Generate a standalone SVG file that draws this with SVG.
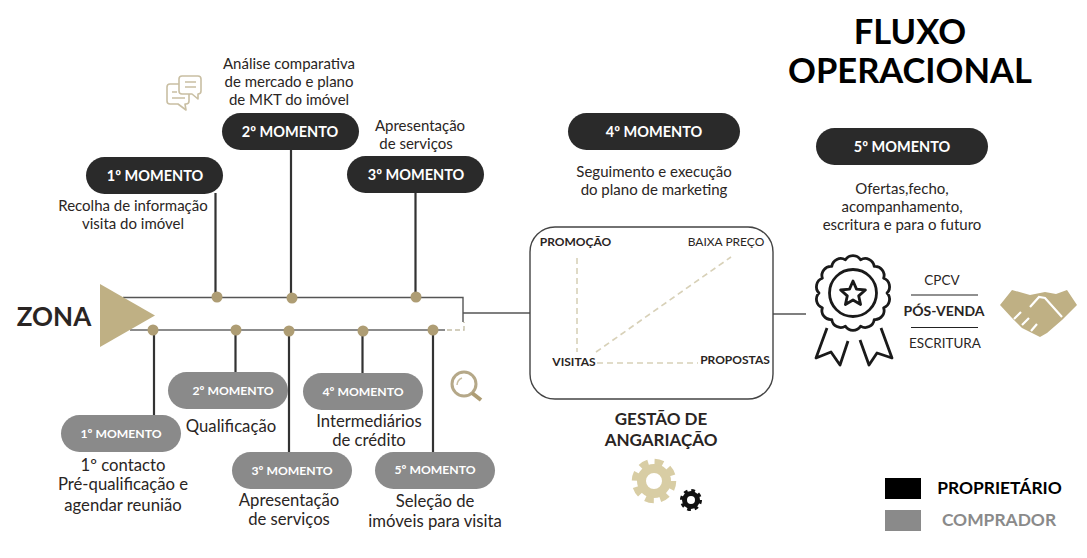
<svg xmlns="http://www.w3.org/2000/svg" width="1087" height="558" viewBox="0 0 1087 558">
<style>
text{font-family:Lato,"Open Sans","Liberation Sans",sans-serif;fill:#2a2523;text-anchor:middle}
.t{font-size:15px}
.u{font-size:16.700px}
.b{font-size:14.500px;font-weight:700;fill:#fff}
.g{font-size:12.200px;font-weight:700;fill:#fff}
.k{fill:#2a2a2a}
.s{fill:#8a8a8a}
.c{stroke:#333;stroke-width:2.2;fill:none}
.l{stroke:#555;stroke-width:1.4;fill:none}
.d{fill:#ae9d74}
.ds{stroke:#d8d1b8;stroke-width:1.6;stroke-dasharray:6 4;fill:none}
.lb{font-size:12px;font-weight:700}
</style>
<rect width="1087" height="558" fill="#fff"/>
<g id="connectors">
<path class="l" d="M123 297.500H463V322M463 313H530M773 314H806"/>
<path d="M130 330H445" stroke="#666" stroke-width="1.600" fill="none"/>
<path d="M447 330H464V322" stroke="#c5bfa8" stroke-width="1.400" stroke-dasharray="5 3" fill="none"/>
<path class="c" d="M215.500 193V297M291 150V297M415.500 192V297M154 330V416M235.500 330V372M289 330V453M362.500 330V373M433 330V453"/>
<circle class="d" cx="217" cy="297" r="5.500"/><circle class="d" cx="292" cy="298" r="5.500"/><circle class="d" cx="416" cy="297" r="5.500"/>
<circle class="d" cx="153" cy="330" r="5.500"/><circle class="d" cx="236" cy="330" r="5.500"/><circle class="d" cx="289" cy="331" r="5.500"/><circle class="d" cx="363" cy="331" r="5.500"/><circle class="d" cx="433" cy="330" r="5.500"/>
</g>
<g id="titulo"><text x="910" y="44" font-size="34.500" font-weight="700" style="fill:#000">FLUXO</text><text x="910" y="83" font-size="34.500" font-weight="700" style="fill:#000">OPERACIONAL</text></g>
<g id="zona"><text x="54" y="326" font-size="26" font-weight="700">ZONA</text><path d="M100 284L155 315.500L100 347Z" fill="#bfb084"/></g>
<g id="p1"><rect class="k" x="86" y="157" width="137" height="37" rx="18.500"/><text class="b" x="155" y="181">1º MOMENTO</text><text class="t" x="133" y="211">Recolha de informação</text><text class="t" x="133" y="229">visita do imóvel</text></g>
<g id="p2"><rect class="k" x="222" y="113" width="137" height="37" rx="18.500"/><text class="b" x="290" y="137">2º MOMENTO</text><text class="t" x="289" y="69">Análise comparativa</text><text class="t" x="289" y="87">de mercado e plano</text><text class="t" x="289" y="105">de MKT do imóvel</text></g>
<g id="p3"><rect class="k" x="347" y="156" width="137" height="37" rx="18.500"/><text class="b" x="416" y="180">3º MOMENTO</text><text class="t" x="420" y="131">Apresentação</text><text class="t" x="416" y="149">de serviços</text></g>
<g id="p4"><rect class="k" x="568" y="113" width="172" height="37" rx="18.500"/><text class="b" x="654" y="137">4º MOMENTO</text><text class="t" x="654" y="177">Seguimento e execução</text><text class="t" x="654" y="195">do plano de marketing</text></g>
<g id="p5"><rect class="k" x="816" y="128" width="172" height="37" rx="18.500"/><text class="b" x="902" y="152">5º MOMENTO</text><text class="t" x="902" y="194">Ofertas,fecho,</text><text class="t" x="902" y="212">acompanhamento,</text><text class="t" x="902" y="230">escritura e para o futuro</text></g>
<g id="c1"><rect class="s" x="61" y="415" width="120" height="37" rx="18.500"/><text class="g" x="121" y="438">1º MOMENTO</text><text class="u" x="123" y="471">1º contacto</text><text class="u" x="123" y="490">Pré-qualificação e</text><text class="u" x="123" y="511">agendar reunião</text></g>
<g id="c2"><rect class="s" x="168" y="372" width="120" height="37" rx="18.500"/><text class="g" x="233" y="395">2º MOMENTO</text><text class="u" x="231" y="432">Qualificação</text></g>
<g id="c3"><rect class="s" x="232" y="452" width="120" height="37" rx="18.500"/><text class="g" x="292" y="475">3º MOMENTO</text><text class="u" x="289" y="506">Apresentação</text><text class="u" x="289" y="525">de serviços</text></g>
<g id="c4"><rect class="s" x="303" y="373" width="120" height="37" rx="18.500"/><text class="g" x="363" y="396">4º MOMENTO</text><text class="u" x="369" y="427">Intermediários</text><text class="u" x="369" y="446">de crédito</text></g>
<g id="c5"><rect class="s" x="375" y="452" width="120" height="37" rx="18.500"/><text class="g" x="435" y="474">5º MOMENTO</text><text class="u" x="435" y="507">Seleção de</text><text class="u" x="435" y="527">imóveis para visita</text></g>
<g id="gestao">
<rect x="530" y="227" width="243" height="172" rx="25" fill="#fff" stroke="#444" stroke-width="1.400"/>
<path class="ds" d="M577 258V352M596 352L731 257M597 363H698"/>
<text class="lb" x="575.500" y="246">PROMOÇÃO</text><text class="lb" x="726" y="246" style="font-weight:400">BAIXA PREÇO</text><text class="lb" x="574" y="366">VISITAS</text><text class="lb" x="735" y="364">PROPOSTAS</text>
<text x="661" y="425" font-size="17" font-weight="700">GESTÃO DE</text><text x="661" y="446" font-size="17" font-weight="700">ANGARIAÇÃO</text>
</g>
<g id="icones">
<g fill="#fff" stroke="#c9bfa3" stroke-width="1.600" stroke-linejoin="round"><path d="M167 87a3 3 0 0 1 3-3h16a3 3 0 0 1 3 3v14a3 3 0 0 1-3 3h-1l1 6-8-6h-8a3 3 0 0 1-3-3Z"/><path d="M179 79a3 3 0 0 1 3-3h16a3 3 0 0 1 3 3v12a3 3 0 0 1-3 3v5l-6-5h-10a3 3 0 0 1-3-3Z"/><path d="M185 82h11M185 87h11M172 92h5M172 98h13" fill="none"/></g>
<g fill="none"><circle cx="464" cy="384" r="12" stroke="#b5a888" stroke-width="3"/><path d="M472 393L481 400" stroke="#ae9d74" stroke-width="4"/><path d="M457 385a8 8 0 0 1 5-7" stroke="#c9bfa3" stroke-width="1.500"/></g>
<g id="engrenagem1" fill="none" stroke="#d8cda4"><circle cx="654" cy="481" r="12.500" stroke-width="9"/><circle cx="654" cy="481" r="19" stroke-width="6.500" stroke-dasharray="8.500 6.420"/></g>
<g id="engrenagem2" fill="none" stroke="#111"><circle cx="691" cy="500" r="6.500" stroke-width="5"/><circle cx="691" cy="500" r="9.500" stroke-width="3" stroke-dasharray="3.700 3.760"/></g>
</g>
<g id="selo" fill="none" stroke="#1a1a1a" stroke-width="2.800" stroke-linejoin="round">
<path d="M887 293A9 9 0 0 1 883.630 307.750A9 9 0 0 1 874.200 319.580A9 9 0 0 1 860.570 326.150A9 9 0 0 1 845.430 326.150A9 9 0 0 1 831.800 319.580A9 9 0 0 1 822.370 307.750A9 9 0 0 1 819 293A9 9 0 0 1 822.370 278.250A9 9 0 0 1 831.800 266.420A9 9 0 0 1 845.430 259.850A9 9 0 0 1 860.570 259.850A9 9 0 0 1 874.200 266.420A9 9 0 0 1 883.630 278.250A9 9 0 0 1 887 293Z"/>
<circle cx="853" cy="293" r="23.500"/>
<path d="M853 281L856.500 289.100L865.400 290L858.700 295.900L860.600 304.500L853 300L845.400 304.500L847.300 295.900L840.600 290L849.500 289.100Z"/>
<path d="M827 328L816 358L831 352L840 365L848 341M881 328L892 358L877 353L869 365L860 340"/>
</g>
<g id="pos-venda">
<text x="942" y="285" font-size="13.500">CPCV</text><path d="M911 295H978M911 327.500H978" stroke="#222" stroke-width="1.200"/>
<text x="944" y="316" font-size="14" font-weight="700">PÓS-VENDA</text><text x="945" y="348" font-size="13.500">ESCRITURA</text>
</g>
<g id="aperto">
<path d="M1000 305L1012 290L1030 295L1045 292L1056 294L1067 290L1077 305L1062 320L1047 333L1040 337L1030 332L1022 328L1012 318Z" fill="#bfb084"/>
<path d="M1062 317L1045 298L1039 297L1030 307M1014 319L1021 312M1022 325L1029 318M1031 331L1037 324" stroke="#fff" stroke-width="2.200" fill="none"/>
</g>
<g id="legenda">
<rect x="885" y="478" width="36" height="21" fill="#000"/><text x="999.500" y="494" font-size="17.400" font-weight="700" style="fill:#000">PROPRIETÁRIO</text>
<rect x="885" y="510" width="36" height="21" fill="#8a8a8a"/><text x="999" y="526" font-size="17.400" font-weight="700" style="fill:#8a8a8a">COMPRADOR</text>
</g>
</svg>
